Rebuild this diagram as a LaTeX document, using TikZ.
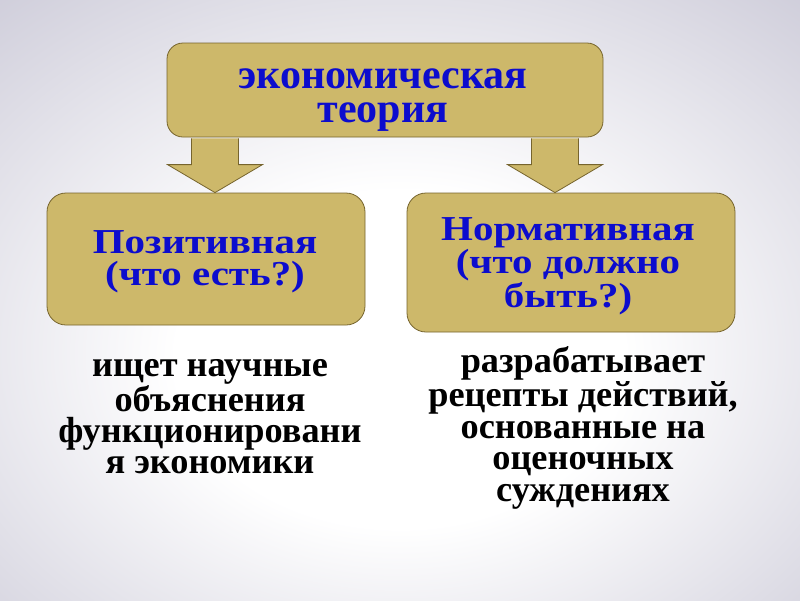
\documentclass[tikz,border=0pt]{standalone}
\usepackage{fontspec}
\setmainfont{Liberation Serif}
\newfontfamily\boxfont[FakeStretch=1.17]{Liberation Serif}
\usetikzlibrary{calc}
\definecolor{khaki}{RGB}{205,184,106}
\definecolor{khakiline}{RGB}{118,100,45}
\definecolor{txtblue}{RGB}{12,12,205}
\definecolor{bgedge}{RGB}{192,190,207}
\pgfdeclareradialshading{bgshade}{\pgfpoint{0bp}{-6bp}}{color(0bp)=(white); color(14bp)=(white); color(46bp)=(bgedge); color(80bp)=(bgedge)}
\newcommand\blockarrow[2]{\draw[arr] let \p1=(#1), \p2=(#2) in
  (\x1-23.5pt,\y1) -- (\x1-23.5pt,\y2+28pt) -- (\x1-47.5pt,\y2+28pt) -- (\x2,\y2)
  -- (\x1+47.5pt,\y2+28pt) -- (\x1+23.5pt,\y2+28pt) -- (\x1+23.5pt,\y1);}
\begin{document}
\begin{tikzpicture}[x=1pt,y=-1pt,
  box/.style={draw=khakiline, line width=0.8pt, fill=khaki, rectangle, inner sep=0pt},
  arr/.style={draw=khakiline, line width=0.8pt, fill=khaki, line join=miter},
  toptxt/.style={text=txtblue, font=\bfseries\fontsize{42}{34}\selectfont, align=center, anchor=base, inner sep=0pt},
  bluetxt/.style={text=txtblue, font=\boxfont\bfseries\fontsize{35}{32}\selectfont, align=center, anchor=base, inner sep=0pt},
  blacktxt/.style={text=black, font=\bfseries\fontsize{36.3}{30.7}\selectfont, align=center, anchor=base, inner sep=0pt}]
\useasboundingbox (0,0) rectangle (800,600);
\shade[shading=bgshade] (0,0) rectangle (800,600);
% boxes (shapes only)
\node[box, rounded corners=16pt, minimum width=436pt, minimum height=94pt] (top) at (385,90) {};
\node[box, rounded corners=19pt, minimum width=318pt, minimum height=132pt] (pos) at (206,259) {};
\node[box, rounded corners=19pt, minimum width=328pt, minimum height=139pt] (neg) at (571,262.5) {};
% arrows
\coordinate (la1) at ([xshift=-170pt,yshift=-1pt]top.south);
\coordinate (la2) at (la1 |- pos.north);
\coordinate (ra1) at ([xshift=170pt,yshift=-1pt]top.south);
\coordinate (ra2) at (ra1 |- neg.north);
\blockarrow{la1}{la2}
\blockarrow{ra1}{ra2}
% texts (anchor = baseline of the last line)
\node[toptxt] (toptext) at (383,122) {экономическая\\теория};
\node[bluetxt] (postext) at (205,285) {Позитивная\\(что есть?)};
\node[bluetxt, font=\boxfont\bfseries\fontsize{35}{33.5}\selectfont] (negtext) at (568,307) {Нормативная\\(что должно\\быть?)};
\node[blacktxt] (posdesc) at (210,473) {ищет научные\\объяснения\\функционировани\\я экономики};
\node[blacktxt, font=\bfseries\fontsize{36.3}{31.5}\selectfont] (negdesc) at (583,501) {разрабатывает\\рецепты действий,\\основанные на\\оценочных\\суждениях};
\end{tikzpicture}
\end{document}
